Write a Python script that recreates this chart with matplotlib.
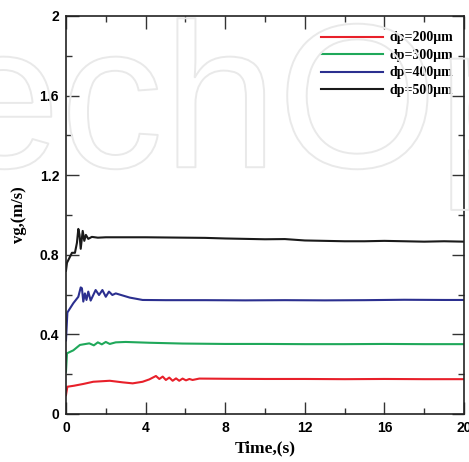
import matplotlib
matplotlib.use("Agg")
import matplotlib.pyplot as plt
from matplotlib.ticker import MultipleLocator
import matplotlib.patheffects as pe

# series (time in s, gas velocity in m/s)
t_200 = [0, 0.07, 0.4, 0.87, 1.37, 2.2, 2.85, 3.35, 3.85, 4.19, 4.52, 4.69, 4.86, 5.02,
         5.19, 5.36, 5.53, 5.69, 5.86, 6.03, 6.2, 6.36, 6.7, 8, 10, 12, 14, 16, 18, 20]
v_200 = [0.095, 0.137, 0.142, 0.151, 0.162, 0.167, 0.159, 0.154, 0.162, 0.174, 0.191, 0.176,
         0.188, 0.171, 0.183, 0.167, 0.179, 0.167, 0.178, 0.169, 0.176, 0.171, 0.178, 0.177,
         0.176, 0.176, 0.175, 0.176, 0.175, 0.175]

t_300 = [0, 0.05, 0.37, 0.7, 1.17, 1.4, 1.6, 1.8, 2.0, 2.2, 2.5, 3.0, 4.19, 5.86, 8, 10,
         12, 14, 16, 18, 20]
v_300 = [0.213, 0.305, 0.32, 0.347, 0.355, 0.345, 0.36, 0.35, 0.362, 0.352, 0.36, 0.362,
         0.358, 0.354, 0.352, 0.352, 0.351, 0.351, 0.352, 0.351, 0.351]

t_400 = [0, 0.07, 0.37, 0.62, 0.74, 0.8, 0.87, 0.95, 1.03, 1.12, 1.24, 1.49, 1.66, 1.83,
         2.0, 2.16, 2.33, 2.5, 3.2, 3.85, 5, 7, 9, 11, 13, 15, 17, 19, 20]
v_400 = [0.37, 0.51, 0.557, 0.589, 0.636, 0.632, 0.565, 0.606, 0.573, 0.615, 0.57, 0.623,
         0.598, 0.623, 0.589, 0.615, 0.598, 0.606, 0.585, 0.573, 0.572, 0.572, 0.571, 0.572,
         0.571, 0.572, 0.574, 0.573, 0.573]

t_500 = [0, 0.05, 0.2, 0.3, 0.45, 0.55, 0.62, 0.68, 0.74, 0.84, 0.92, 1.0, 1.12, 1.3, 1.6,
         2, 3, 4, 5, 6, 7, 8, 9, 10, 11, 12, 13, 14, 15, 16, 17, 18, 19, 20]
v_500 = [0.72, 0.76, 0.79, 0.81, 0.81, 0.86, 0.93, 0.9, 0.83, 0.92, 0.87, 0.9, 0.88, 0.89,
         0.886, 0.888, 0.888, 0.888, 0.887, 0.886, 0.885, 0.882, 0.88, 0.878, 0.879, 0.872,
         0.87, 0.868, 0.868, 0.87, 0.868, 0.866, 0.868, 0.866]

labels = ['dp=200μm', 'dp=300μm', 'dp=400μm', 'dp=500μm']
colors = ['#e8202a', '#1fa85a', '#2b2f8f', '#1a1a1a']
x_ticks = [0, 4, 8, 12, 16, 20]
y_ticks = [0, 0.4, 0.8, 1.2, 1.6, 2]
y_ticklabels = ['0', '0.4', '0.8', '1.2', '1.6', '2']

serif = 'Liberation Serif'
sans = 'Liberation Sans'

fig = plt.figure(figsize=(4.69, 4.62), dpi=100)

# faint outlined watermark in the background
fig.text(-0.115, 0.638, 'echOp', fontsize=148, family=sans, color='none',
         path_effects=[pe.withStroke(linewidth=1.4, foreground='#e9e9e9')], zorder=0)

ax = fig.add_axes([0.1407, 0.1039, 0.8486, 0.8615])
ax.patch.set_alpha(0)

for t, v, lab, c in zip([t_200, t_300, t_400, t_500], [v_200, v_300, v_400, v_500], labels, colors):
    ax.plot(t, v, color=c, lw=1.5, label=lab)

ax.set_xlim(0, 20)
ax.set_ylim(0, 2)
ax.set_xticks(x_ticks)
ax.set_xticklabels([str(x) for x in x_ticks])
ax.set_yticks(y_ticks)
ax.set_yticklabels(y_ticklabels)
ax.xaxis.set_minor_locator(MultipleLocator(2))
ax.yaxis.set_minor_locator(MultipleLocator(0.2))

ax.tick_params(which='both', direction='in', top=True, right=True, color='#333333')
ax.tick_params(which='major', length=9, width=1, labelsize=10, pad=5)
ax.tick_params(which='minor', length=4.5, width=1)
for lbl in ax.get_xticklabels() + ax.get_yticklabels():
    lbl.set_family(sans)
    lbl.set_fontweight('bold')
for s in ax.spines.values():
    s.set_linewidth(1.2)
    s.set_color('#222222')

ax.set_xlabel('Time,(s)', family=serif, fontweight='bold', fontsize=12.5, labelpad=4)
ax.set_ylabel('vg,(m/s)', family=serif, fontweight='bold', fontsize=12, labelpad=9)

leg = ax.legend(loc='upper right', bbox_to_anchor=(0.986, 0.975), frameon=False,
                handlelength=4.5, handletextpad=0.43, labelspacing=0.32, borderaxespad=0,
                prop={'family': serif, 'weight': 'bold', 'size': 10})

fig.savefig('out.png', dpi=100)
